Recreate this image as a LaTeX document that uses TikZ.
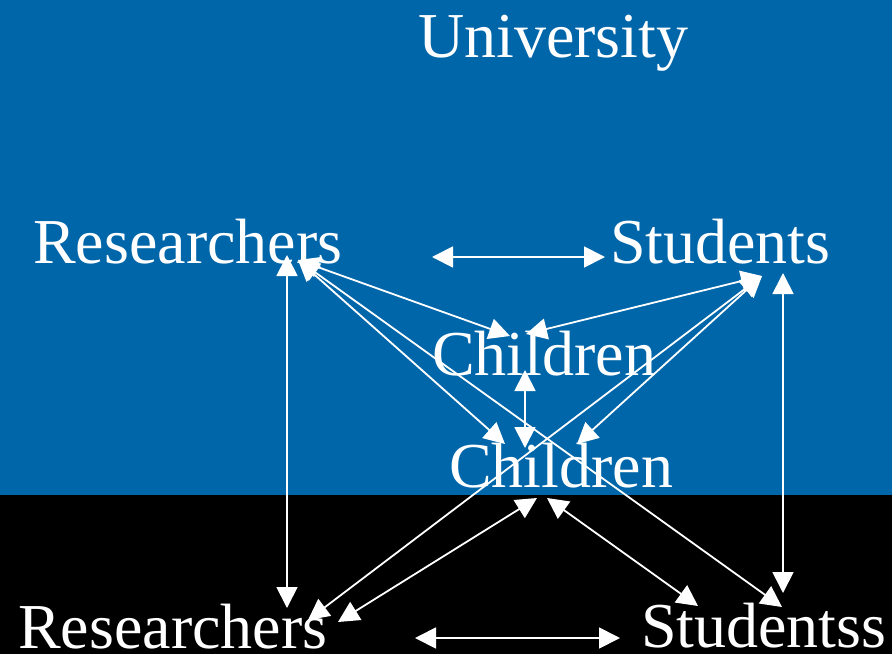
\documentclass[tikz,border=0pt]{standalone}
\usepackage{fontspec}
\setmainfont{Liberation Serif}
\usetikzlibrary{arrows.meta}
\definecolor{bgblue}{RGB}{0,102,170}
\tikzset{
  lbl/.style={text=white, inner sep=0pt, anchor=base west, font=\fontsize{64}{70}\selectfont},
  link/.style={draw=white, line width=1.8pt, {Triangle[length=21pt,width=21pt]}-{Triangle[length=21pt,width=21pt]}}
}
\begin{document}
\begin{tikzpicture}[x=1pt,y=-1pt]
\useasboundingbox (0,0) rectangle (892,654);
\fill[bgblue] (0,0) rectangle (892,495);
\fill[black] (0,495) rectangle (892,654);
% text nodes
\node[lbl] (univ) at (418,57) {University};
\node[lbl] (res1) at (33,263) {Researchers};
\node[lbl] (stu1) at (610,263) {Students};
\node[lbl] (ch1) at (432,375) {Children};
\node[lbl] (ch2) at (449,487) {Children};
\node[lbl] (res2) at (18,648) {Researchers};
\node[lbl] (stu2) at (641,647) {Studentss};
% anchor coordinates for connectors
\coordinate (rs1a) at (432,257);
\coordinate (rs1b) at (605,257);
\coordinate (rs2a) at (415,638);
\coordinate (rs2b) at (620,638);
\coordinate (rv1) at (287,255);
\coordinate (rv2) at (287,608);
\coordinate (sv1) at (783,273);
\coordinate (sv2) at (783,593);
\coordinate (cv1) at (525,370);
\coordinate (cv2) at (525,448);
\coordinate (rhub) at (298,260);
\coordinate (shub) at (762,276);
\coordinate (c1l) at (510,336);
\coordinate (c1r) at (526,334);
\coordinate (c2l) at (505,444);
\coordinate (c2r) at (577,444);
\coordinate (c2bl) at (537,498);
\coordinate (c2br) at (547,498);
\coordinate (r2a) at (308,620);
\coordinate (r2b) at (338,622);
\coordinate (s2a) at (698,606);
\coordinate (s2b) at (782,607);
% connectors
\draw[link] (rs1a) -- (rs1b);
\draw[link] (rs2a) -- (rs2b);
\draw[link] (rv1) -- (rv2);
\draw[link] (sv1) -- (sv2);
\draw[link] (cv1) -- (cv2);
\draw[link] (rhub) -- (c1l);
\draw[link] (rhub) -- (c2l);
\draw[link] (rhub) -- (s2b);
\draw[link] (shub) -- (c1r);
\draw[link] (shub) -- (c2r);
\draw[link] (shub) -- (r2a);
\draw[link] (c2bl) -- (r2b);
\draw[link] (c2br) -- (s2a);
\end{tikzpicture}
\end{document}
